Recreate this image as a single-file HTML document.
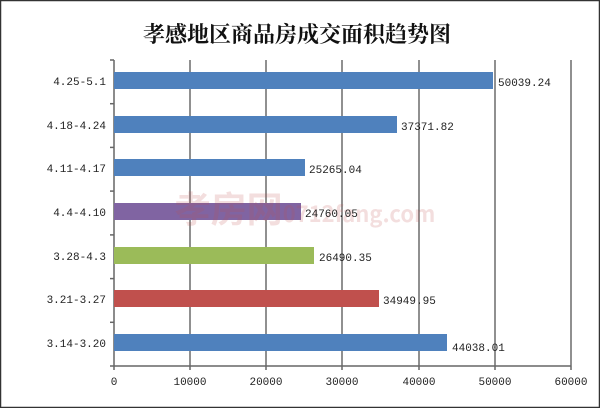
<!DOCTYPE html><html><head><meta charset="utf-8"><style>body{margin:0;background:#fff}</style></head><body>
<svg width="600" height="408" xmlns="http://www.w3.org/2000/svg" font-family="'Liberation Mono','Noto Serif CJK SC',monospace">
<rect x="0.5" y="0.5" width="599" height="407" fill="#fff" stroke="#333" stroke-width="1.5"/>
<text x="297" y="42" font-size="22" font-weight="bold" text-anchor="middle" font-family="'Noto Serif CJK SC',serif" fill="#111">孝感地区商品房成交面积趋势图</text>
<g stroke="#222" stroke-width="1">
<line x1="190" y1="60" x2="190" y2="366"/><line x1="266" y1="60" x2="266" y2="366"/><line x1="342" y1="60" x2="342" y2="366"/><line x1="419" y1="60" x2="419" y2="366"/><line x1="495" y1="60" x2="495" y2="366"/><line x1="571" y1="60" x2="571" y2="366"/>
</g>
<g stroke="#666" stroke-width="1.5">
<line x1="114" y1="60" x2="114" y2="370"/><line x1="110" y1="366" x2="571" y2="366"/>
<line x1="110" y1="60" x2="114" y2="60"/><line x1="110" y1="103.7" x2="114" y2="103.7"/><line x1="110" y1="147.4" x2="114" y2="147.4"/><line x1="110" y1="191.1" x2="114" y2="191.1"/><line x1="110" y1="234.9" x2="114" y2="234.9"/><line x1="110" y1="278.6" x2="114" y2="278.6"/><line x1="110" y1="322.3" x2="114" y2="322.3"/>
<line x1="190" y1="366" x2="190" y2="370"/><line x1="266" y1="366" x2="266" y2="370"/><line x1="342" y1="366" x2="342" y2="370"/><line x1="419" y1="366" x2="419" y2="370"/><line x1="495" y1="366" x2="495" y2="370"/><line x1="571" y1="366" x2="571" y2="370"/>
</g>
<g>
<rect x="114" y="72" width="379" height="17" fill="#4f81bd"/>
<rect x="114" y="116" width="283" height="17" fill="#4f81bd"/>
<rect x="114" y="159" width="191" height="17" fill="#4f81bd"/>
<rect x="114" y="203" width="187" height="17" fill="#8064a2"/>
<rect x="114" y="247" width="200" height="17" fill="#9bbb59"/>
<rect x="114" y="290" width="265" height="17" fill="#c0504d"/>
<rect x="114" y="334" width="333" height="17" fill="#4f81bd"/>
</g>
<text x="305" y="222" font-size="36" font-weight="bold" fill="#c0504d" opacity="0.18" font-family="'Noto Sans CJK SC',sans-serif" text-anchor="middle">孝房网<tspan font-size="22">0712fang.com</tspan></text>
<g font-size="11" fill="#222" text-anchor="end">
<text x="106" y="85">4.25-5.1</text><text x="106" y="129">4.18-4.24</text><text x="106" y="172">4.11-4.17</text><text x="106" y="216">4.4-4.10</text><text x="106" y="260">3.28-4.3</text><text x="106" y="303">3.21-3.27</text><text x="106" y="347">3.14-3.20</text>
</g>
<g font-size="11" fill="#222">
<text x="498" y="86">50039.24</text><text x="401" y="130">37371.82</text><text x="309" y="173">25265.04</text><text x="305" y="217">24760.05</text><text x="319" y="261">26490.35</text><text x="383" y="304">34949.95</text><text x="452" y="351">44038.01</text>
</g>
<g font-size="11" fill="#222" text-anchor="middle">
<text x="114" y="385">0</text><text x="190" y="385">10000</text><text x="266" y="385">20000</text><text x="342" y="385">30000</text><text x="419" y="385">40000</text><text x="495" y="385">50000</text><text x="571" y="385">60000</text>
</g>
</svg></body></html>
